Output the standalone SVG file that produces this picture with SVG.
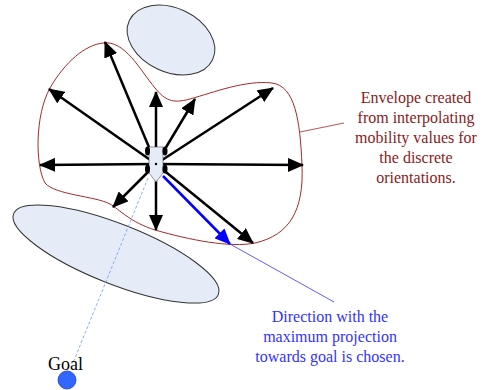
<svg xmlns="http://www.w3.org/2000/svg" width="489" height="390" viewBox="0 0 489 390">
<style>
.obs{fill:#e6ecf7;stroke:#333;stroke-width:1}
.arr{stroke:#000;stroke-width:2.5;fill:none;marker-end:url(#ah)}
.red{font-family:"Liberation Serif",serif;font-size:16px;fill:#8b1a1a;text-anchor:middle}
.blu{font-family:"Liberation Serif",serif;font-size:16px;fill:#3333ff;text-anchor:middle}
</style>
<defs>
<marker id="ah" markerUnits="userSpaceOnUse" markerWidth="16" markerHeight="14" refX="15" refY="7" orient="auto">
<path d="M0,0 L16,7 L0,14 Z" fill="#000"/>
</marker>
<marker id="ahb" markerUnits="userSpaceOnUse" markerWidth="16" markerHeight="14" refX="15" refY="7" orient="auto">
<path d="M0,0 L16,7 L0,14 Z" fill="#0000ff"/>
</marker>
</defs>
<g id="obstacle-top"><ellipse class="obs" cx="171" cy="40" rx="46" ry="32" transform="rotate(25 171 40)"/></g>
<g id="obstacle-bottom"><ellipse class="obs" cx="116" cy="254" rx="110" ry="30" transform="rotate(21.5 116 254)"/></g>
<g id="envelope"><path d="M103,43 C125,40 140,70 155,88 C165,100 172,104 190,99 C215,92 245,80 272,83 C295,86 300,120 302,165 C304,210 290,235 255,243 C230,248 190,240 155,230 C130,222 120,210 110,204 C95,196 55,195 45,183 C35,165 35,115 50,88 C65,62 85,45 103,43 Z" fill="none" stroke="#a52a2a" stroke-width="1"/></g>
<g id="connectors">
<line x1="156" y1="164" x2="40" y2="165" class="arr"/>
<line x1="156" y1="164" x2="303" y2="165" class="arr"/>
<line x1="156" y1="164" x2="156" y2="92" class="arr"/>
<line x1="156" y1="164" x2="156" y2="230" class="arr"/>
<line x1="156" y1="164" x2="105" y2="42" class="arr"/>
<line x1="156" y1="164" x2="49" y2="89" class="arr"/>
<line x1="156" y1="164" x2="195" y2="99" class="arr"/>
<line x1="156" y1="164" x2="273" y2="88" class="arr"/>
<line x1="156" y1="164" x2="113" y2="207" class="arr"/>
<line x1="156" y1="164" x2="253" y2="243" class="arr"/>
<line x1="163" y1="176" x2="230" y2="244" stroke="#0000ff" stroke-width="2.5" marker-end="url(#ahb)"/>
<line x1="230" y1="244" x2="334" y2="302" stroke="#3333ff" stroke-width="0.8"/>
<line x1="148" y1="178" x2="73" y2="363" stroke="#6699ff" stroke-width="0.8" stroke-dasharray="3,2"/>
<line x1="300" y1="132" x2="344" y2="123" stroke="#a52a2a" stroke-width="0.8"/>
</g>
<g id="robot">
<path d="M149,147 L163,147 L163,173 L156,182 L149,173 Z" fill="#e6ecf7" stroke="#555" stroke-width="0.6"/>
<ellipse cx="147.5" cy="151" rx="2.5" ry="4.5" fill="#000"/>
<ellipse cx="165" cy="151" rx="2.5" ry="4.5" fill="#000"/>
<ellipse cx="147.5" cy="169" rx="2.5" ry="4.5" fill="#000"/>
<ellipse cx="165" cy="169" rx="2.5" ry="4.5" fill="#000"/>
<circle cx="156" cy="164" r="1.2" fill="#000"/>
</g>
<g id="goal">
<circle cx="67" cy="380" r="9" fill="#3366ff" stroke="#1a3fbf" stroke-width="0.8"/>
<text x="48" y="370" font-family="Liberation Serif,serif" font-size="18" fill="#000">Goal</text>
</g>
<g id="label-envelope">
<text class="red" x="416" y="103">Envelope created</text>
<text class="red" x="416" y="123">from interpolating</text>
<text class="red" x="416" y="143">mobility values for</text>
<text class="red" x="416" y="163">the discrete</text>
<text class="red" x="416" y="183">orientations.</text>
</g>
<g id="label-direction">
<text class="blu" x="330" y="322">Direction with the</text>
<text class="blu" x="330" y="342">maximum projection</text>
<text class="blu" x="330" y="362">towards goal is chosen.</text>
</g>
</svg>
